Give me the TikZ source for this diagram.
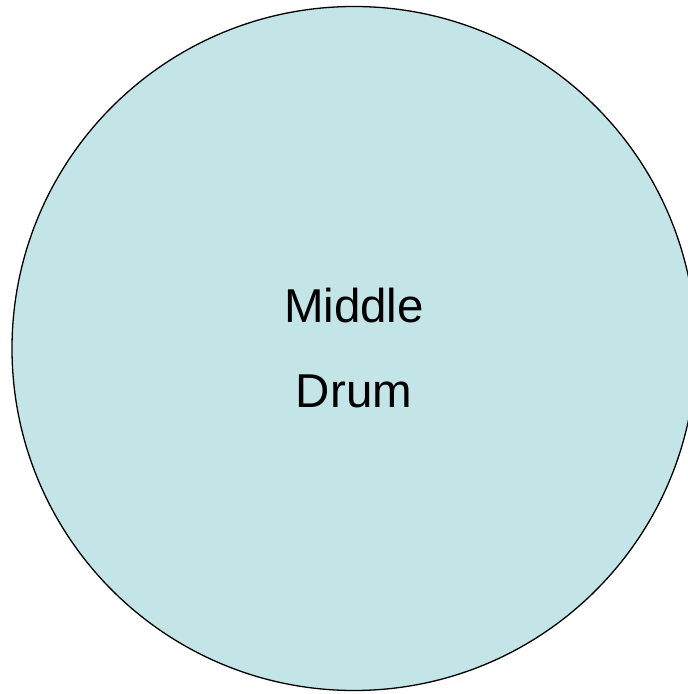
\documentclass[tikz,border=0pt]{standalone}
\usepackage{fontspec}
\setmainfont{Liberation Sans}
\usepackage{tikz}
\usetikzlibrary{positioning}
\definecolor{drumfill}{HTML}{C4E5E8}

\begin{document}
\begin{tikzpicture}[x=1pt, y=1pt,
    drumnode/.style={circle, draw=black, line width=1.3pt, fill=drumfill, minimum size=684pt, inner sep=0pt, align=center, font=\fontsize{47.5}{85}\selectfont}]
    \useasboundingbox (0,0) rectangle (688,694);
    \node[drumnode] (drum) at (354,345.5) {Middle\\Drum};
\end{tikzpicture}
\end{document}
